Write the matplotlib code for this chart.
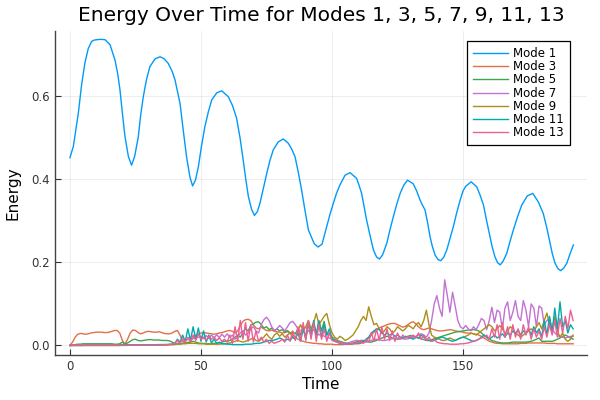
import matplotlib
matplotlib.use("Agg")
import matplotlib.pyplot as plt
import numpy as np

t_mode1 = [0, 1.3, 3.2, 4.4, 5.7, 7.0, 8.3, 9.2, 10.2, 11.8, 13.4, 15.3, 17.2, 18.2, 19.1,
           20, 21, 22.3, 23.5, 24.7, 26.1, 27, 28, 29.2, 30.5, 32.5, 34.4, 36, 37.5, 39,
           40.1, 42, 43.2, 44.5, 45.8, 46.8, 47.9, 49, 50.2, 51.5, 52.8, 54.1, 56, 57.9,
           60.4, 62, 63.6, 64.9, 66.1, 67.1, 68.1, 69.3, 70.4, 71.5, 72.5, 73.8, 75.1, 76.3,
           77.6, 79.5, 81.4, 83.3, 84.6, 85.9, 87.1, 88.4, 89.7, 91, 93.2, 94.7, 96.2, 98,
           99.2, 100.5, 101.7, 103, 105, 106.9, 109.4, 110.3, 111.3, 112.2, 113.2, 114.5,
           115.8, 117, 118.1, 119.3, 120.9, 122.1, 123.4, 124.7, 126, 127.4, 128.8, 131,
           132.3, 133.6, 134.5, 135.5, 136.5, 137.4, 138.3, 139.3, 140.4, 141.5, 142.6,
           143.8, 145, 146.3, 147.6, 148.9, 150, 151, 153.1, 155.2, 156.5, 157.8, 159,
           160.3, 161.2, 162.2, 163.2, 164.2, 165.3, 166.7, 167.9, 169.2, 170.8, 172.4,
           174.5, 176.6, 178.7, 180.6, 182, 183.2, 184.1, 185.1, 186.2, 187.3, 188.4, 189.6,
           190.8, 192.1]
e_mode1 = [0.452, 0.479, 0.559, 0.625, 0.680, 0.715, 0.732, 0.735, 0.736, 0.737, 0.736,
           0.724, 0.687, 0.655, 0.615, 0.560, 0.503, 0.455, 0.434, 0.455, 0.503, 0.555,
           0.599, 0.640, 0.671, 0.690, 0.695, 0.690, 0.679, 0.660, 0.639, 0.583, 0.520,
           0.454, 0.405, 0.384, 0.398, 0.430, 0.480, 0.527, 0.562, 0.591, 0.608, 0.613,
           0.599, 0.578, 0.547, 0.500, 0.447, 0.400, 0.358, 0.328, 0.313, 0.322, 0.342,
           0.378, 0.414, 0.445, 0.471, 0.490, 0.497, 0.487, 0.473, 0.454, 0.418, 0.374,
           0.325, 0.278, 0.245, 0.237, 0.244, 0.286, 0.315, 0.342, 0.366, 0.386, 0.410,
           0.416, 0.402, 0.386, 0.366, 0.335, 0.302, 0.265, 0.230, 0.213, 0.208, 0.218,
           0.246, 0.278, 0.310, 0.340, 0.366, 0.386, 0.398, 0.389, 0.372, 0.350, 0.338,
           0.326, 0.295, 0.262, 0.238, 0.218, 0.207, 0.204, 0.212, 0.230, 0.257, 0.286,
           0.320, 0.350, 0.372, 0.383, 0.394, 0.382, 0.362, 0.338, 0.300, 0.262, 0.235,
           0.213, 0.199, 0.194, 0.203, 0.222, 0.250, 0.278, 0.310, 0.338, 0.360, 0.366,
           0.346, 0.318, 0.282, 0.246, 0.220, 0.198, 0.185, 0.180, 0.186, 0.198, 0.220,
           0.242]

# other modes, one value per time unit (t = 0..192)
t_grid = np.arange(193)

e_mode3 = [
    0.000, 0.008, 0.020, 0.027, 0.029, 0.028, 0.027, 0.028, 0.030, 0.031,
    0.032, 0.032, 0.032, 0.031, 0.031, 0.032, 0.034, 0.036, 0.036, 0.030,
    0.012, 0.003, 0.015, 0.030, 0.037, 0.036, 0.031, 0.028, 0.030, 0.033,
    0.034, 0.033, 0.032, 0.032, 0.033, 0.031, 0.029, 0.028, 0.028, 0.030,
    0.034, 0.036, 0.025, 0.010, 0.005, 0.006, 0.010, 0.018, 0.025, 0.028,
    0.030, 0.031, 0.030, 0.029, 0.028, 0.027, 0.028, 0.030, 0.031, 0.033,
    0.035, 0.036, 0.034, 0.030, 0.035, 0.048, 0.058, 0.062, 0.063, 0.060,
    0.050, 0.042, 0.040, 0.044, 0.040, 0.036, 0.035, 0.037, 0.034, 0.033,
    0.032, 0.030, 0.031, 0.033, 0.030, 0.025, 0.020, 0.015, 0.012, 0.010,
    0.008, 0.007, 0.006, 0.005, 0.005, 0.004, 0.004, 0.003, 0.003, 0.003,
    0.003, 0.002, 0.002, 0.002, 0.002, 0.003, 0.003, 0.004, 0.004, 0.004,
    0.004, 0.005, 0.008, 0.012, 0.018, 0.025, 0.032, 0.038, 0.042, 0.045,
    0.047, 0.050, 0.052, 0.053, 0.053, 0.050, 0.047, 0.044, 0.046, 0.050,
    0.055, 0.057, 0.052, 0.045, 0.040, 0.038, 0.040, 0.042, 0.040, 0.038,
    0.036, 0.035, 0.035, 0.036, 0.037, 0.038, 0.037, 0.035, 0.034, 0.033,
    0.032, 0.030, 0.030, 0.029, 0.028, 0.027, 0.025, 0.022, 0.018, 0.014,
    0.010, 0.008, 0.006, 0.005, 0.005, 0.004, 0.004, 0.004, 0.004, 0.004,
    0.004, 0.004, 0.005, 0.005, 0.005, 0.006, 0.006, 0.006, 0.006, 0.006,
    0.006, 0.006, 0.005, 0.005, 0.005, 0.005, 0.004, 0.004, 0.004, 0.004,
    0.004, 0.004, 0.004]

e_mode5 = [
    0.000, 0.001, 0.002, 0.003, 0.003, 0.004, 0.004, 0.004, 0.004, 0.004,
    0.004, 0.004, 0.004, 0.004, 0.004, 0.004, 0.004, 0.003, 0.003, 0.004,
    0.008, 0.003, 0.006, 0.010, 0.014, 0.015, 0.012, 0.011, 0.012, 0.013,
    0.014, 0.014, 0.013, 0.013, 0.013, 0.012, 0.012, 0.012, 0.011, 0.008,
    0.005, 0.004, 0.004, 0.005, 0.006, 0.007, 0.008, 0.010, 0.008, 0.006,
    0.005, 0.005, 0.004, 0.004, 0.004, 0.005, 0.005, 0.006, 0.008, 0.010,
    0.010, 0.012, 0.015, 0.020, 0.025, 0.020, 0.030, 0.040, 0.035, 0.048,
    0.052, 0.056, 0.057, 0.050, 0.042, 0.045, 0.038, 0.042, 0.036, 0.040,
    0.035, 0.038, 0.032, 0.036, 0.030, 0.033, 0.028, 0.040, 0.025, 0.045,
    0.020, 0.050, 0.030, 0.055, 0.025, 0.060, 0.035, 0.058, 0.025, 0.030,
    0.020, 0.015, 0.012, 0.010, 0.008, 0.006, 0.005, 0.005, 0.006, 0.008,
    0.010, 0.012, 0.012, 0.010, 0.008, 0.008, 0.010, 0.012, 0.015, 0.018,
    0.020, 0.022, 0.020, 0.018, 0.016, 0.015, 0.016, 0.018, 0.020, 0.022,
    0.024, 0.022, 0.020, 0.018, 0.016, 0.014, 0.012, 0.012, 0.014, 0.016,
    0.018, 0.020, 0.022, 0.024, 0.026, 0.028, 0.030, 0.032, 0.033, 0.034,
    0.035, 0.036, 0.037, 0.038, 0.038, 0.037, 0.035, 0.030, 0.025, 0.020,
    0.015, 0.012, 0.010, 0.008, 0.007, 0.006, 0.006, 0.006, 0.007, 0.008,
    0.008, 0.008, 0.008, 0.008, 0.008, 0.009, 0.010, 0.012, 0.015, 0.018,
    0.010, 0.010, 0.010, 0.010, 0.010, 0.012, 0.015, 0.018, 0.022, 0.025,
    0.022, 0.018, 0.015]

e_mode7 = [
    0.000, 0.000, 0.001, 0.001, 0.001, 0.001, 0.001, 0.001, 0.001, 0.001,
    0.001, 0.001, 0.001, 0.001, 0.001, 0.001, 0.001, 0.001, 0.001, 0.001,
    0.001, 0.001, 0.001, 0.001, 0.001, 0.001, 0.001, 0.001, 0.001, 0.001,
    0.001, 0.001, 0.001, 0.002, 0.002, 0.002, 0.002, 0.002, 0.002, 0.002,
    0.003, 0.005, 0.008, 0.010, 0.012, 0.014, 0.015, 0.017, 0.018, 0.020,
    0.022, 0.016, 0.024, 0.017, 0.025, 0.018, 0.026, 0.019, 0.027, 0.020,
    0.028, 0.020, 0.025, 0.015, 0.020, 0.030, 0.035, 0.025, 0.030, 0.040,
    0.045, 0.035, 0.030, 0.050, 0.062, 0.068, 0.060, 0.045, 0.035, 0.040,
    0.048, 0.042, 0.035, 0.045, 0.055, 0.058, 0.050, 0.040, 0.035, 0.040,
    0.045, 0.035, 0.030, 0.038, 0.032, 0.025, 0.028, 0.022, 0.020, 0.018,
    0.015, 0.012, 0.010, 0.008, 0.006, 0.005, 0.006, 0.008, 0.010, 0.012,
    0.012, 0.010, 0.008, 0.008, 0.010, 0.012, 0.014, 0.015, 0.014, 0.012,
    0.012, 0.013, 0.015, 0.016, 0.017, 0.018, 0.017, 0.016, 0.015, 0.016,
    0.018, 0.020, 0.022, 0.025, 0.028, 0.025, 0.020, 0.030, 0.060, 0.100,
    0.120, 0.090, 0.070, 0.158, 0.120, 0.080, 0.128, 0.095, 0.060, 0.045,
    0.040, 0.048, 0.040, 0.035, 0.045, 0.038, 0.050, 0.065, 0.060, 0.038,
    0.060, 0.092, 0.055, 0.085, 0.080, 0.040, 0.090, 0.105, 0.060, 0.080,
    0.108, 0.070, 0.060, 0.108, 0.085, 0.045, 0.100, 0.090, 0.045, 0.095,
    0.090, 0.050, 0.060, 0.065, 0.040, 0.030, 0.025, 0.020, 0.020, 0.018,
    0.020, 0.022, 0.022]

e_mode9 = [
    0.000, 0.000, 0.000, 0.000, 0.000, 0.000, 0.001, 0.001, 0.001, 0.001,
    0.001, 0.001, 0.001, 0.001, 0.001, 0.001, 0.001, 0.001, 0.001, 0.001,
    0.001, 0.001, 0.001, 0.001, 0.001, 0.001, 0.001, 0.001, 0.001, 0.001,
    0.001, 0.001, 0.001, 0.001, 0.001, 0.001, 0.001, 0.001, 0.002, 0.002,
    0.002, 0.003, 0.003, 0.004, 0.004, 0.005, 0.005, 0.005, 0.005, 0.004,
    0.004, 0.004, 0.003, 0.003, 0.003, 0.003, 0.003, 0.003, 0.004, 0.004,
    0.005, 0.006, 0.008, 0.010, 0.012, 0.010, 0.008, 0.010, 0.012, 0.015,
    0.018, 0.012, 0.010, 0.015, 0.020, 0.028, 0.020, 0.015, 0.025, 0.030,
    0.022, 0.028, 0.020, 0.025, 0.030, 0.020, 0.015, 0.035, 0.050, 0.035,
    0.045, 0.060, 0.040, 0.055, 0.077, 0.050, 0.060, 0.070, 0.077, 0.050,
    0.030, 0.020, 0.015, 0.022, 0.018, 0.012, 0.015, 0.020, 0.025, 0.035,
    0.045, 0.060, 0.070, 0.060, 0.093, 0.070, 0.050, 0.053, 0.040, 0.030,
    0.035, 0.045, 0.040, 0.030, 0.035, 0.045, 0.040, 0.035, 0.040, 0.048,
    0.045, 0.040, 0.050, 0.055, 0.045, 0.060, 0.085, 0.050, 0.025, 0.020,
    0.018, 0.015, 0.012, 0.012, 0.015, 0.018, 0.015, 0.012, 0.015, 0.018,
    0.020, 0.022, 0.025, 0.030, 0.028, 0.025, 0.030, 0.035, 0.040, 0.045,
    0.050, 0.045, 0.035, 0.040, 0.048, 0.040, 0.030, 0.035, 0.045, 0.040,
    0.030, 0.025, 0.020, 0.025, 0.030, 0.035, 0.040, 0.035, 0.045, 0.055,
    0.040, 0.060, 0.078, 0.050, 0.040, 0.070, 0.035, 0.020, 0.030, 0.015,
    0.010, 0.015, 0.025]

e_mode11 = [
    0.000, 0.000, 0.000, 0.000, 0.000, 0.000, 0.000, 0.000, 0.000, 0.000,
    0.000, 0.000, 0.000, 0.000, 0.000, 0.000, 0.000, 0.000, 0.000, 0.000,
    0.001, 0.001, 0.001, 0.001, 0.001, 0.001, 0.001, 0.001, 0.001, 0.001,
    0.001, 0.001, 0.001, 0.001, 0.002, 0.002, 0.002, 0.002, 0.003, 0.003,
    0.005, 0.015, 0.008, 0.025, 0.010, 0.040, 0.012, 0.045, 0.015, 0.042,
    0.010, 0.035, 0.008, 0.025, 0.006, 0.015, 0.005, 0.008, 0.004, 0.004,
    0.003, 0.003, 0.002, 0.002, 0.002, 0.002, 0.002, 0.003, 0.003, 0.003,
    0.004, 0.005, 0.005, 0.006, 0.008, 0.010, 0.012, 0.012, 0.013, 0.015,
    0.018, 0.015, 0.012, 0.015, 0.012, 0.020, 0.015, 0.030, 0.010, 0.040,
    0.015, 0.055, 0.020, 0.060, 0.025, 0.058, 0.020, 0.050, 0.025, 0.040,
    0.015, 0.010, 0.008, 0.005, 0.004, 0.003, 0.003, 0.003, 0.004, 0.005,
    0.006, 0.008, 0.010, 0.015, 0.020, 0.030, 0.035, 0.040, 0.038, 0.030,
    0.025, 0.030, 0.025, 0.028, 0.022, 0.025, 0.020, 0.018, 0.022, 0.020,
    0.018, 0.015, 0.020, 0.018, 0.025, 0.020, 0.015, 0.012, 0.010, 0.012,
    0.015, 0.018, 0.020, 0.018, 0.015, 0.012, 0.010, 0.012, 0.015, 0.018,
    0.020, 0.018, 0.015, 0.012, 0.010, 0.012, 0.015, 0.020, 0.025, 0.020,
    0.015, 0.020, 0.025, 0.018, 0.022, 0.028, 0.020, 0.030, 0.025, 0.035,
    0.028, 0.038, 0.025, 0.035, 0.030, 0.040, 0.025, 0.045, 0.030, 0.040,
    0.020, 0.060, 0.025, 0.070, 0.030, 0.090, 0.040, 0.105, 0.045, 0.060,
    0.030, 0.050, 0.040]

e_mode13 = [
    0.000, 0.000, 0.000, 0.000, 0.000, 0.000, 0.000, 0.000, 0.000, 0.000,
    0.000, 0.000, 0.000, 0.000, 0.000, 0.000, 0.000, 0.000, 0.000, 0.000,
    0.000, 0.000, 0.000, 0.001, 0.001, 0.001, 0.001, 0.001, 0.001, 0.001,
    0.001, 0.001, 0.001, 0.001, 0.001, 0.001, 0.002, 0.002, 0.002, 0.003,
    0.005, 0.012, 0.006, 0.018, 0.008, 0.020, 0.010, 0.025, 0.012, 0.028,
    0.015, 0.020, 0.012, 0.022, 0.015, 0.020, 0.012, 0.018, 0.010, 0.015,
    0.008, 0.025, 0.005, 0.045, 0.010, 0.060, 0.015, 0.055, 0.010, 0.050,
    0.008, 0.035, 0.010, 0.020, 0.008, 0.015, 0.005, 0.010, 0.005, 0.008,
    0.010, 0.015, 0.008, 0.025, 0.010, 0.035, 0.012, 0.045, 0.010, 0.055,
    0.012, 0.060, 0.015, 0.055, 0.010, 0.050, 0.015, 0.040, 0.010, 0.030,
    0.012, 0.010, 0.008, 0.005, 0.004, 0.003, 0.003, 0.004, 0.005, 0.006,
    0.008, 0.010, 0.005, 0.015, 0.008, 0.030, 0.010, 0.040, 0.012, 0.045,
    0.015, 0.040, 0.012, 0.035, 0.010, 0.030, 0.015, 0.025, 0.018, 0.022,
    0.020, 0.025, 0.018, 0.030, 0.015, 0.025, 0.012, 0.020, 0.010, 0.015,
    0.008, 0.006, 0.005, 0.004, 0.004, 0.003, 0.003, 0.003, 0.003, 0.004,
    0.004, 0.005, 0.006, 0.008, 0.010, 0.012, 0.015, 0.018, 0.020, 0.025,
    0.015, 0.040, 0.020, 0.050, 0.015, 0.055, 0.020, 0.045, 0.015, 0.050,
    0.020, 0.040, 0.015, 0.050, 0.025, 0.045, 0.015, 0.040, 0.020, 0.035,
    0.015, 0.045, 0.020, 0.050, 0.025, 0.060, 0.020, 0.065, 0.030, 0.070,
    0.040, 0.085, 0.060]

labels = ["Mode 1", "Mode 3", "Mode 5", "Mode 7", "Mode 9", "Mode 11", "Mode 13"]
colors = ["#009afa", "#e36f47", "#3ea44e", "#c371d2", "#ac8e18", "#00aaae", "#ed5e93"]

fig = plt.figure(figsize=(6, 4), dpi=100)
ax = fig.add_axes([55 / 600, 45 / 400, 532 / 600, 324 / 400])

ax.plot(t_mode1, e_mode1, color=colors[0], lw=1, label=labels[0])
others = [e_mode3, e_mode5, e_mode7, e_mode9, e_mode11, e_mode13]
for i, e in enumerate(others):
    ax.plot(t_grid, e, color=colors[i + 1], lw=1, label=labels[i + 1])

ax.set_xlim(-5.7, 197.3)
ax.set_ylim(-0.023, 0.757)
ax.set_xticks([0, 50, 100, 150])
ax.set_yticks([0.0, 0.2, 0.4, 0.6])
ax.set_yticklabels(["0.0", "0.2", "0.4", "0.6"])
ax.grid(True, color="black", alpha=0.08, lw=0.6)
ax.tick_params(direction="in", length=4, width=0.8, labelsize=8.5, colors="#333333")
for s in ["top", "right"]:
    ax.spines[s].set_visible(False)
for s in ["left", "bottom"]:
    ax.spines[s].set_color("#444444")
    ax.spines[s].set_linewidth(1)

ax.set_title("Energy Over Time for Modes 1, 3, 5, 7, 9, 11, 13", fontsize=14.5, pad=7)
ax.set_xlabel("Time", fontsize=11, labelpad=3)
ax.set_ylabel("Energy", fontsize=11, labelpad=8)

leg = ax.legend(loc="upper right", bbox_to_anchor=(0.968, 0.969), borderaxespad=0,
                fontsize=8.5, fancybox=False, framealpha=1, edgecolor="black",
                handlelength=3.0, handletextpad=0.45, labelspacing=0.02, borderpad=0.5)
leg.get_frame().set_linewidth(0.9)

fig.savefig("out.png", dpi=100)
